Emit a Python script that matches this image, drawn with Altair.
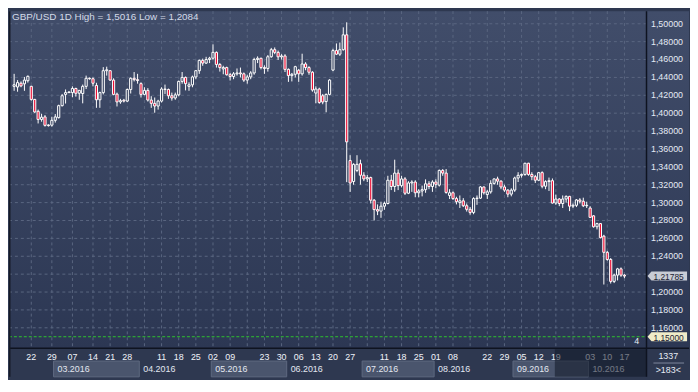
import altair as alt
import pandas as pd

# ---------------- data ----------------
opens = [1.4300, 1.4293, 1.4335, 1.4328, 1.4363, 1.4300, 1.4154, 1.4021, 1.3930, 1.3958,
         1.3868, 1.3866, 1.3920, 1.3950, 1.4084, 1.4210, 1.4230, 1.4230, 1.4276, 1.4223,
         1.4220, 1.4300, 1.4390, 1.4385, 1.4310, 1.4150, 1.4230, 1.4475, 1.4475, 1.4370,
         1.4213, 1.4126, 1.4145, 1.4135, 1.4265, 1.4390, 1.4375, 1.4330, 1.4210, 1.4255,
         1.4147, 1.4110, 1.4080, 1.4135, 1.4270, 1.4265, 1.4195, 1.4170, 1.4205, 1.4355,
         1.4400, 1.4300, 1.4317, 1.4405, 1.4475, 1.4590, 1.4560, 1.4600, 1.4615, 1.4680,
         1.4545, 1.4495, 1.4510, 1.4430, 1.4410, 1.4440, 1.4450, 1.4440, 1.4370, 1.4405,
         1.4450, 1.4600, 1.4614, 1.4510, 1.4500, 1.4631, 1.4710, 1.4680, 1.4630, 1.4640,
         1.4490, 1.4420, 1.4435, 1.4480, 1.4440, 1.4550, 1.4510, 1.4458, 1.4225, 1.4270,
         1.4195, 1.4130, 1.4210, 1.4482, 1.4700, 1.4660, 1.4710, 1.4876, 1.3470, 1.3236,
         1.3360, 1.3435, 1.3306, 1.3265, 1.3280, 1.3027, 1.2922, 1.2905, 1.2960, 1.2990,
         1.3250, 1.3180, 1.3330, 1.3190, 1.3265, 1.3105, 1.3220, 1.3230, 1.3110, 1.3130,
         1.3145, 1.3210, 1.3180, 1.3230, 1.3195, 1.3360, 1.3330, 1.3080, 1.3110, 1.3045,
         1.3000, 1.3020, 1.2965, 1.2925, 1.2890, 1.3045, 1.3050, 1.3175, 1.3090, 1.3120,
         1.3215, 1.3265, 1.3240, 1.3175, 1.3140, 1.3095, 1.3140, 1.3275, 1.3305, 1.3315,
         1.3440, 1.3315, 1.3290, 1.3250, 1.3335, 1.3183, 1.3235, 1.3245, 1.2995, 1.3040,
         1.2990, 1.3040, 1.3070, 1.2960, 1.2970, 1.3030, 1.3015, 1.2965, 1.2939, 1.2852,
         1.2730, 1.2765, 1.2625, 1.2444, 1.2364, 1.2119, 1.2189, 1.2259, 1.2189]
highs = [1.4440, 1.4370, 1.4355, 1.4405, 1.4422, 1.4307, 1.4160, 1.4040, 1.3993, 1.3979,
         1.3875, 1.3960, 1.3990, 1.4095, 1.4215, 1.4265, 1.4245, 1.4300, 1.4285, 1.4260,
         1.4320, 1.4420, 1.4400, 1.4400, 1.4340, 1.4240, 1.4515, 1.4520, 1.4480, 1.4390,
         1.4230, 1.4160, 1.4160, 1.4275, 1.4400, 1.4460, 1.4440, 1.4345, 1.4290, 1.4280,
         1.4190, 1.4175, 1.4150, 1.4290, 1.4320, 1.4275, 1.4230, 1.4230, 1.4365, 1.4460,
         1.4410, 1.4345, 1.4420, 1.4480, 1.4600, 1.4610, 1.4630, 1.4630, 1.4770, 1.4690,
         1.4560, 1.4530, 1.4520, 1.4450, 1.4460, 1.4500, 1.4510, 1.4455, 1.4430, 1.4470,
         1.4620, 1.4635, 1.4620, 1.4535, 1.4650, 1.4730, 1.4735, 1.4700, 1.4660, 1.4660,
         1.4500, 1.4450, 1.4530, 1.4495, 1.4665, 1.4570, 1.4525, 1.4470, 1.4300, 1.4285,
         1.4215, 1.4220, 1.4380, 1.4720, 1.4780, 1.4790, 1.4960, 1.5016, 1.3530, 1.3440,
         1.3530, 1.3480, 1.3340, 1.3310, 1.3290, 1.3040, 1.2980, 1.3010, 1.3010, 1.3300,
         1.3310, 1.3480, 1.3370, 1.3300, 1.3285, 1.3240, 1.3250, 1.3250, 1.3150, 1.3190,
         1.3260, 1.3240, 1.3250, 1.3260, 1.3370, 1.3375, 1.3375, 1.3150, 1.3125, 1.3065,
         1.3080, 1.3050, 1.2990, 1.2950, 1.3060, 1.3080, 1.3185, 1.3180, 1.3140, 1.3250,
         1.3270, 1.3290, 1.3250, 1.3200, 1.3150, 1.3160, 1.3290, 1.3340, 1.3325, 1.3445,
         1.3445, 1.3340, 1.3310, 1.3340, 1.3350, 1.3250, 1.3280, 1.3270, 1.3090, 1.3050,
         1.3080, 1.3080, 1.3075, 1.2990, 1.3040, 1.3050, 1.3055, 1.3010, 1.2960, 1.2860,
         1.2775, 1.2770, 1.2640, 1.2460, 1.2380, 1.2205, 1.2270, 1.2275, 1.2200]
lows = [1.4250, 1.4240, 1.4290, 1.4250, 1.4342, 1.4140, 1.4004, 1.3885, 1.3905, 1.3850,
        1.3850, 1.3850, 1.3895, 1.3940, 1.4075, 1.4108, 1.4225, 1.4178, 1.4185, 1.4150,
        1.4110, 1.4270, 1.4375, 1.4300, 1.4060, 1.4060, 1.4210, 1.4420, 1.4360, 1.4200,
        1.4075, 1.4105, 1.4120, 1.4125, 1.4220, 1.4355, 1.4330, 1.4175, 1.4200, 1.4130,
        1.4060, 1.4005, 1.4040, 1.4120, 1.4215, 1.4160, 1.4140, 1.4150, 1.4190, 1.4330,
        1.4255, 1.4250, 1.4290, 1.4380, 1.4440, 1.4530, 1.4550, 1.4560, 1.4600, 1.4510,
        1.4465, 1.4435, 1.4420, 1.4365, 1.4380, 1.4420, 1.4400, 1.4350, 1.4330, 1.4380,
        1.4430, 1.4560, 1.4490, 1.4440, 1.4465, 1.4620, 1.4660, 1.4595, 1.4600, 1.4460,
        1.4350, 1.4355, 1.4400, 1.4350, 1.4420, 1.4480, 1.4430, 1.4240, 1.4110, 1.4105,
        1.4100, 1.4010, 1.4200, 1.4470, 1.4650, 1.4640, 1.4700, 1.3229, 1.3120, 1.3200,
        1.3340, 1.3201, 1.3240, 1.3230, 1.2990, 1.2800, 1.2860, 1.2830, 1.2920, 1.2980,
        1.3140, 1.3120, 1.3140, 1.3170, 1.3085, 1.3095, 1.3120, 1.3060, 1.3060, 1.3070,
        1.3110, 1.3150, 1.3120, 1.3160, 1.3180, 1.3300, 1.3100, 1.3040, 1.3030, 1.2980,
        1.2940, 1.2950, 1.2900, 1.2865, 1.2870, 1.2975, 1.3040, 1.3090, 1.3040, 1.3100,
        1.3200, 1.3200, 1.3150, 1.3120, 1.3060, 1.3070, 1.3120, 1.3230, 1.3280, 1.3300,
        1.3300, 1.3250, 1.3220, 1.3240, 1.3160, 1.3150, 1.3130, 1.2990, 1.2975, 1.2960,
        1.2940, 1.3000, 1.2905, 1.2940, 1.2950, 1.2990, 1.2950, 1.2940, 1.2830, 1.2720,
        1.2700, 1.2600, 1.2084, 1.2350, 1.2095, 1.2100, 1.2130, 1.2170, 1.2155]
closes = [1.4318, 1.4342, 1.4305, 1.4370, 1.4412, 1.4154, 1.4014, 1.3930, 1.3955, 1.3864,
          1.3861, 1.3920, 1.3958, 1.4084, 1.4195, 1.4230, 1.4237, 1.4276, 1.4223, 1.4255,
          1.4300, 1.4390, 1.4385, 1.4335, 1.4150, 1.4230, 1.4475, 1.4485, 1.4370, 1.4210,
          1.4126, 1.4140, 1.4135, 1.4265, 1.4390, 1.4375, 1.4365, 1.4210, 1.4255, 1.4147,
          1.4110, 1.4080, 1.4135, 1.4270, 1.4265, 1.4195, 1.4170, 1.4205, 1.4355, 1.4400,
          1.4330, 1.4317, 1.4405, 1.4475, 1.4590, 1.4560, 1.4600, 1.4615, 1.4680, 1.4545,
          1.4510, 1.4510, 1.4430, 1.4410, 1.4440, 1.4450, 1.4440, 1.4370, 1.4405, 1.4450,
          1.4600, 1.4614, 1.4510, 1.4500, 1.4631, 1.4710, 1.4680, 1.4630, 1.4640, 1.4490,
          1.4420, 1.4435, 1.4520, 1.4440, 1.4550, 1.4510, 1.4458, 1.4259, 1.4270, 1.4120,
          1.4125, 1.4210, 1.4370, 1.4700, 1.4660, 1.4710, 1.4876, 1.3679, 1.3220, 1.3428,
          1.3428, 1.3306, 1.3265, 1.3280, 1.3027, 1.2922, 1.2905, 1.2960, 1.2990, 1.3250,
          1.3180, 1.3330, 1.3190, 1.3265, 1.3105, 1.3220, 1.3230, 1.3110, 1.3130, 1.3145,
          1.3210, 1.3180, 1.3230, 1.3205, 1.3360, 1.3330, 1.3114, 1.3110, 1.3045, 1.3010,
          1.3020, 1.2965, 1.2925, 1.2890, 1.3045, 1.3050, 1.3175, 1.3110, 1.3120, 1.3215,
          1.3265, 1.3240, 1.3175, 1.3140, 1.3095, 1.3140, 1.3275, 1.3305, 1.3315, 1.3440,
          1.3315, 1.3290, 1.3250, 1.3335, 1.3183, 1.3235, 1.3245, 1.2995, 1.3040, 1.2990,
          1.3040, 1.3070, 1.2960, 1.2970, 1.3030, 1.3015, 1.2965, 1.2970, 1.2835, 1.2730,
          1.2765, 1.2608, 1.2444, 1.2364, 1.2119, 1.2189, 1.2259, 1.2189, 1.21785]

# bar index of each Monday (weekly vertical grid)
week_starts = [5, 11, 17, 23, 28, 33, 38, 43, 48, 53, 58, 63, 68, 73, 78, 83, 88, 93,
               98, 103, 108, 113, 118, 123, 128, 133, 138, 143, 148, 153, 158, 163,
               168, 173, 178]
day_label_idx = [5, 11, 17, 23, 28, 33, 43, 48, 53, 58, 63, 73, 78, 83, 88, 93, 98,
                 108, 113, 118, 123, 128, 138, 143, 148, 153, 158, 168, 173, 178]
day_labels = ["22", "29", "07", "14", "21", "28", "11", "18", "25", "02", "09", "23",
              "30", "06", "13", "20", "27", "11", "18", "25", "01", "08", "22", "29",
              "05", "12", "19", "03", "10", "17"]
month_names = ["03.2016", "04.2016", "05.2016", "06.2016", "07.2016", "08.2016",
               "09.2016", "10.2016"]
month_start = [11.5, 36.5, 57.5, 79.5, 101.5, 122.5, 145.5, 167.5]
month_end = [36.5, 57.5, 79.5, 101.5, 122.5, 145.5, 167.5, 183.0]
month_boxed = [True, False, True, False, True, False, True, False]
dim_from = [157.7]
grid_ticks = [1.16, 1.18, 1.20, 1.22, 1.24, 1.26, 1.28, 1.30, 1.32, 1.34, 1.36,
              1.38, 1.40, 1.42, 1.44, 1.46, 1.48, 1.50]
# 1,22000 sits under the current-price tag in the reference, so it is not shown
label_ticks = [1.16, 1.18, 1.20, 1.24, 1.26, 1.28, 1.30, 1.32, 1.34, 1.36,
               1.38, 1.40, 1.42, 1.44, 1.46, 1.48, 1.50]
tag_prices = [1.21785, 1.15]
tag_labels = ["1,21785", "1,15000"]
tag_fills = ["#c8ccd5", "#f0ebc8"]
title_text = "GBP/USD 1D High = 1,5016 Low = 1,2084"

# ---------------- layout ----------------
W, H = 645, 341
RA = 43      # right axis strip
BS = 29      # bottom strip
FONT = "Liberation Sans"

candles = pd.DataFrame({"i": list(range(len(closes))), "open": opens, "high": highs,
                        "low": lows, "close": closes})
xs = alt.Scale(domain=[-0.06, 183.0], nice=False, zero=False)
ys = alt.Scale(domain=[1.1372, 1.5141], nice=False, zero=False)
one = pd.DataFrame({"a": [0]})

# the same axis object on every layer so Vega-Lite can merge them
y_axis = alt.Axis(
    orient="right", values=label_ticks,
    labelExpr="replace(format(datum.value, '.5f'), '.', ',')",
    grid=False, ticks=False, tickSize=0, domain=False, labelColor="#e4eaf4",
    labelFont=FONT, labelFontSize=9, labelPadding=4, title=None, zindex=1,
    labelOverlap=False, labelOffset=-0.5)

grad = alt.LinearGradient(gradient="linear",
                          stops=[alt.GradientStop(color="#414d6a", offset=0),
                                 alt.GradientStop(color="#2c3753", offset=1)],
                          x1=0, x2=0, y1=0, y2=1)
bg = alt.Chart(one).mark_rect(fill=grad).encode(
    x=alt.value(0), x2=alt.value(W + RA), y=alt.value(0), y2=alt.value(H))

hgrid = alt.Chart(pd.DataFrame({"v": grid_ticks})).mark_rule(
    color="#5a6681", strokeDash=[3, 3], strokeWidth=1).encode(
    y=alt.Y("v:Q", scale=ys, axis=y_axis), x=alt.value(0), x2=alt.value(W))
vgrid = alt.Chart(pd.DataFrame({"i": week_starts})).mark_rule(
    color="#5a6681", strokeDash=[3, 3], strokeWidth=1).encode(
    x=alt.X("i:Q", scale=xs, axis=None), y=alt.value(0), y2=alt.value(H))
green = alt.Chart(pd.DataFrame({"v": [1.15]})).mark_rule(
    color="#2fc22f", strokeDash=[3, 2], strokeWidth=1).encode(
    y=alt.Y("v:Q", scale=ys, axis=y_axis), x=alt.value(0), x2=alt.value(W))

wicks = alt.Chart(candles).mark_rule(color="#ffffff", strokeWidth=1).encode(
    x=alt.X("i:Q", scale=xs, axis=None),
    y=alt.Y("low:Q", scale=ys, axis=y_axis),
    y2="high:Q")
bodies = alt.Chart(candles).mark_bar(width=2.2, stroke="#ffffff", strokeWidth=1).encode(
    x=alt.X("i:Q", scale=xs, axis=None),
    y=alt.Y("open:Q", scale=ys, axis=y_axis),
    y2="close:Q",
    fill=alt.condition("datum.close < datum.open", alt.value("#ec1036"),
                       alt.value("#36425f")))

title = alt.Chart(one).mark_text(align="left", baseline="middle", font=FONT,
                                 fontSize=10, color="#d3dae8").encode(
    x=alt.value(3), y=alt.value(6), text=alt.value(title_text))
four = alt.Chart(one).mark_text(align="center", baseline="middle", font=FONT,
                                fontSize=9, color="#e8edf5").encode(
    x=alt.value(W - 10), y=alt.value(H - 7), text=alt.value("4"))

months = pd.DataFrame({"m": month_names, "s": month_start, "e": month_end,
                       "boxed": month_boxed})
boxes = alt.Chart(months).transform_filter("datum.boxed").mark_rect(
    fill="#4a556d", stroke="#5e6981", strokeWidth=1).encode(
    x=alt.X("s:Q", scale=xs, axis=None), x2="e:Q",
    y=alt.value(H + 13), y2=alt.value(H + BS))
mlabels = alt.Chart(months).mark_text(align="left", baseline="middle", dx=4, font=FONT,
                                      fontSize=9, color="#e2e7f0").encode(
    x=alt.X("s:Q", scale=xs, axis=None), y=alt.value(H + 21), text="m:N")
dlabels = alt.Chart(pd.DataFrame({"i": day_label_idx, "t": day_labels})).mark_text(
    align="center", baseline="middle", font=FONT, fontSize=9, color="#f0f3f9").encode(
    x=alt.X("i:Q", scale=xs, axis=None), y=alt.value(H + 9), text="t:N")
dim = alt.Chart(pd.DataFrame({"s": dim_from})).mark_rect(
    fill="#111726", opacity=0.55).encode(
    x=alt.X("s:Q", scale=xs, axis=None), x2=alt.value(W),
    y=alt.value(H + 1), y2=alt.value(H + BS))

sep_v = alt.Chart(one).mark_rule(color="#0e1320", strokeWidth=1.5).encode(
    x=alt.value(W), y=alt.value(0), y2=alt.value(H + BS))
sep_h = alt.Chart(one).mark_rule(color="#0e1320", strokeWidth=1.5).encode(
    x=alt.value(0), x2=alt.value(W + RA), y=alt.value(H))
left_b = alt.Chart(one).mark_rule(color="#161b27", strokeWidth=1.5).encode(
    x=alt.value(0.75), y=alt.value(0), y2=alt.value(H + BS))
corner_line = alt.Chart(one).mark_rule(color="#7e889d", strokeWidth=1).encode(
    x=alt.value(W + 7), x2=alt.value(W + 38), y=alt.value(H + 15))
c1 = alt.Chart(one).mark_text(align="center", baseline="middle", font=FONT, fontSize=9,
                              color="#e8edf5").encode(
    x=alt.value(W + 22), y=alt.value(H + 8), text=alt.value("1337"))
c2 = alt.Chart(one).mark_text(align="center", baseline="middle", font=FONT, fontSize=9,
                              color="#e8edf5").encode(
    x=alt.value(W + 22), y=alt.value(H + 22), text=alt.value(">183<"))

tags = pd.DataFrame({"p": tag_prices, "t": tag_labels, "f": tag_fills})
tag_shape = alt.Chart(tags).mark_point(
    shape="M-1,0L-0.8,-0.23L1,-0.23L1,0.23L-0.8,0.23Z", size=1600, filled=True,
    opacity=1, strokeWidth=0).encode(
    x=alt.value(W + 21), y=alt.Y("p:Q", scale=ys, axis=y_axis),
    fill=alt.Fill("f:N", scale=None))
tag_text = alt.Chart(tags).mark_text(align="left", baseline="middle", font=FONT,
                                     fontSize=8.5, dy=1, color="#1b2233").encode(
    x=alt.value(W + 7), y=alt.Y("p:Q", scale=ys, axis=y_axis), text="t:N")

chart = alt.layer(
    bg, hgrid, vgrid, green, wicks, bodies, title, four,
    boxes, mlabels, dlabels, dim, sep_v, sep_h, left_b, corner_line, c1, c2,
    tag_shape, tag_text
).properties(width=W, height=H, background="#2e3850", padding=0).configure_view(
    strokeWidth=0)

chart.save("out.html", embed_options={"renderer": "svg", "actions": False})
